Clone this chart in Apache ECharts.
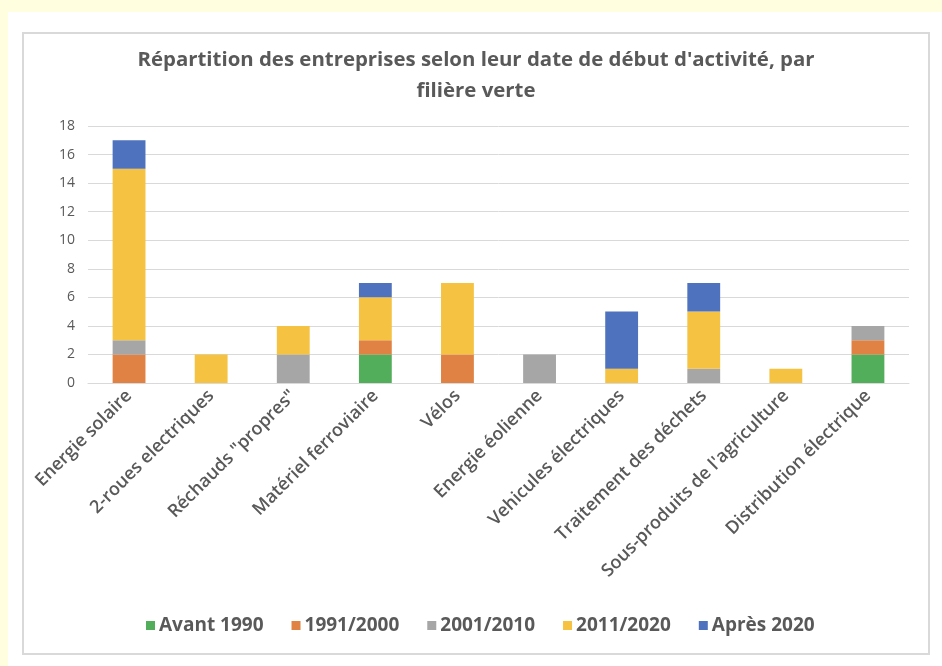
<!DOCTYPE html>
<html>
<head>
<meta charset="utf-8">
<script src="https://cdn.jsdelivr.net/npm/echarts@6/dist/echarts.min.js"></script>
<style>
  html, body { margin: 0; padding: 0; background: #FFFFDF; }
  #page { position: relative; width: 942px; height: 666px; overflow: hidden; }
  #white { position: absolute; left: 8px; top: 12px; width: 934px; height: 654px; background: #ffffff; }
  #frame { position: absolute; left: 22px; top: 32px; width: 904px; height: 619px; border: 2px solid #d9d9d9; }
  #chart { position: absolute; left: 0; top: 0; width: 942px; height: 666px; }
</style>
</head>
<body>
<div id="page">
  <div id="white"></div>
  <div id="frame"></div>
  <div id="chart"></div>
</div>
<script>
const categories = ["Energie solaire", "2-roues electriques", "Réchauds \"propres\"", "Matériel ferroviaire", "Vélos", "Energie éolienne", "Vehicules électriques", "Traitement des déchets", "Sous-produits de l'agriculture", "Distribution électrique"];
const avant1990  = [0, 0, 0, 2, 0, 0, 0, 0, 0, 2];
const p1991_2000 = [2, 0, 0, 1, 2, 0, 0, 0, 0, 1];
const p2001_2010 = [1, 0, 2, 0, 0, 2, 0, 1, 0, 1];
const p2011_2020 = [12, 2, 2, 3, 5, 0, 1, 4, 1, 0];
const apres2020  = [2, 0, 0, 1, 0, 0, 4, 2, 0, 0];
const seriesNames = ["Avant 1990", "1991/2000", "2001/2010", "2011/2020", "Après 2020"];
const seriesColors = ["#52ae5b", "#e08243", "#a6a6a6", "#f5c242", "#4e72be"];
const titleText = "Répartition des entreprises selon leur date de début d'activité, par\nfilière verte";

const dataSets = [avant1990, p1991_2000, p2001_2010, p2011_2020, apres2020];
const chart = echarts.init(document.getElementById('chart'), null, { renderer: 'canvas' });
const textColor = '#595959';
chart.setOption({
  backgroundColor: 'transparent',
  animation: false,
  title: {
    text: titleText,
    left: 471,
    top: 40,
    textAlign: 'center',
    textStyle: { fontFamily: 'Open Sans', fontWeight: 'bold', fontSize: 20.4, color: textColor, lineHeight: 31 }
  },
  legend: {
    data: seriesNames,
    left: 141,
    top: 611,
    itemWidth: 9,
    itemHeight: 9,
    itemGap: 28,
    icon: 'rect',
    textStyle: { fontFamily: 'Open Sans', fontWeight: 'bold', fontSize: 19, color: textColor, padding: [0, 0, 0, -1] }
  },
  grid: { left: 88, right: 33, top: 126, bottom: 283, containLabel: false },
  xAxis: {
    type: 'category',
    data: categories,
    axisLine: { lineStyle: { color: '#d9d9d9', width: 1 } },
    axisTick: { show: false },
    axisLabel: { interval: 0, rotate: 45, margin: 10, color: textColor, fontFamily: 'Open Sans', fontWeight: 600, fontSize: 18 }
  },
  yAxis: {
    type: 'value',
    min: 0, max: 18, interval: 2,
    axisLine: { show: false },
    axisTick: { show: false },
    splitLine: { lineStyle: { color: '#d9d9d9', width: 1 } },
    axisLabel: { margin: 13, color: textColor, fontFamily: 'Open Sans', fontSize: 14 }
  },
  series: seriesNames.map((n, i) => ({
    name: n,
    type: 'bar',
    stack: 'total',
    barWidth: '40%',
    data: dataSets[i],
    itemStyle: { color: seriesColors[i] }
  }))
});
</script>
</body>
</html>
